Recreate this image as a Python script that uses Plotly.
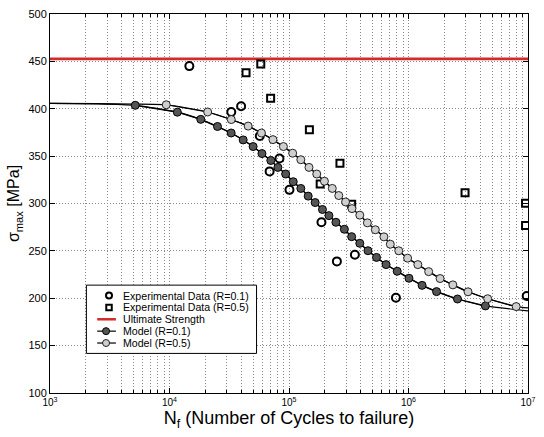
import plotly.graph_objects as go

# ---------------- data ----------------
ultimate_strength = 452.6
x_range_cycles = [1e3, 1e7]

exp_r01_cycles = [14660, 32880, 39740, 56960, 68850, 83210, 100900, 186900, 251600, 355900, 784900, 9.757e6]
exp_r01_stress = [445.0, 396.6, 402.6, 371.2, 333.9, 347.5, 314.4, 280.2, 238.9, 245.9, 200.6, 202.3]

exp_r05_cycles = [43690, 58050, 70170, 148100, 182400, 266900, 334400, 2.973e6, 9.537e6, 9.537e6]
exp_r05_stress = [438.1, 447.3, 411.2, 377.8, 320.7, 342.6, 299.2, 311.3, 300.2, 276.8]

model_r01_cycles = [5170, 11630, 18270, 25210, 32810, 41350, 50070, 59390, 70420, 80720,
                    93760, 108500, 125600, 144700, 165500, 190500, 215900, 246900, 290700, 334400,
                    391300, 458000, 540100, 649200, 804300, 1.009e6, 1.299e6, 1.717e6, 2.570e6, 4.401e6]
model_r01_stress = [403.6, 396.4, 388.8, 381.3, 374.4, 367.1, 360.1, 352.7, 345.4, 338.1,
                    331.1, 323.0, 315.9, 307.8, 301.0, 293.7, 287.2, 280.2, 272.8, 265.0,
                    258.0, 250.2, 243.1, 235.5, 228.5, 221.1, 213.6, 207.0, 199.2, 191.9]

model_r05_cycles = [9393, 20860, 32880, 45530, 58820, 73400, 89770, 107300, 125600, 147000,
                    170700, 197900, 230200, 260900, 297400, 336300, 391300, 452900, 527900, 622600,
                    704200, 828900, 983100, 1.197e6, 1.475e6, 1.838e6, 2.351e6, 3.147e6, 4.598e6, 7.963e6]
model_r05_stress = [404.2, 396.6, 388.6, 381.7, 374.4, 367.4, 360.1, 353.1, 346.2, 338.1,
                    331.1, 323.5, 315.9, 308.4, 301.6, 294.6, 287.7, 279.6, 272.3, 264.8,
                    257.0, 250.1, 242.3, 235.5, 228.1, 220.8, 214.1, 206.8, 199.5, 191.2]

# curve end / flat-region points (beyond the markers)
model_r01_tail_cycles = [1e3, 2500]
model_r01_tail_stress = [405.6, 405.2]
model_r01_end = (1e7, 186.7)
model_r05_tail_cycles = [1e3, 2500, 5000]
model_r05_tail_stress = [405.6, 405.4, 405.0]
model_r05_end = (1e7, 189.8)

x_tick_vals = [1e3, 1e4, 1e5, 1e6, 1e7]
x_tick_text = ["10<sup>3</sup>", "10<sup>4</sup>", "10<sup>5</sup>", "10<sup>6</sup>", "10<sup>7</sup>"]
y_tick_vals = [100, 150, 200, 250, 300, 350, 400, 450, 500]

legend_labels = ["Experimental Data (R=0.1)", "Experimental Data (R=0.5)", "Ultimate Strength",
                 "Model (R=0.1)", "Model (R=0.5)"]

FONT = "Liberation Sans, Arial, sans-serif"
RED = "#d42a2a"
DARK = "#555555"
LIGHT = "#cfcfcf"
GRID = "#8a8a8a"
GRID_DASH = "1px,2px"

W, H = 544, 437
ML, MR, MT, MB = 50, 8, 10, 44
PW, PH = W - ML - MR, H - MT - MB


def px2x(px):
    return (px - ML) / PW


def px2y(py):
    return (H - MB - py) / PH


fig = go.Figure()

# smooth model curves spanning the full axis
fig.add_trace(go.Scatter(
    x=model_r01_tail_cycles + model_r01_cycles + [model_r01_end[0]],
    y=model_r01_tail_stress + model_r01_stress + [model_r01_end[1]],
    mode="lines", line=dict(color="black", width=1.2, shape="spline", smoothing=0.6),
    showlegend=False, hoverinfo="skip"))
fig.add_trace(go.Scatter(
    x=model_r05_tail_cycles + model_r05_cycles + [model_r05_end[0]],
    y=model_r05_tail_stress + model_r05_stress + [model_r05_end[1]],
    mode="lines", line=dict(color="black", width=1.2, shape="spline", smoothing=0.6),
    showlegend=False, hoverinfo="skip"))

fig.add_trace(go.Scatter(
    x=x_range_cycles, y=[ultimate_strength, ultimate_strength],
    mode="lines", line=dict(color=RED, width=2.8),
    name=legend_labels[2], showlegend=False))

fig.add_trace(go.Scatter(
    x=exp_r01_cycles, y=exp_r01_stress, mode="markers",
    marker=dict(symbol="circle-open", size=8, color="black", line=dict(width=2)),
    name=legend_labels[0], showlegend=False))
fig.add_trace(go.Scatter(
    x=exp_r05_cycles, y=exp_r05_stress, mode="markers",
    marker=dict(symbol="square-open", size=7, color="black", line=dict(width=2)),
    name=legend_labels[1], showlegend=False))

fig.add_trace(go.Scatter(
    x=model_r01_cycles, y=model_r01_stress, mode="lines+markers",
    line=dict(color="black", width=1.2),
    marker=dict(symbol="circle", size=8, color=DARK, line=dict(color="black", width=1)),
    name=legend_labels[3], showlegend=False))
fig.add_trace(go.Scatter(
    x=model_r05_cycles, y=model_r05_stress, mode="lines+markers",
    line=dict(color="black", width=1.2),
    marker=dict(symbol="circle", size=8, color=LIGHT, line=dict(color="#222222", width=1)),
    name=legend_labels[4], showlegend=False))

# ---------------- compact legend (MATLAB style) ----------------
box = dict(x0=87, x1=260, y0=284, y1=353)
row_y = [294.5, 306.5, 318.5, 330.5, 342.5]
shapes = [dict(type="rect", xref="paper", yref="paper",
               x0=px2x(box["x0"]), x1=px2x(box["x1"]), y0=px2y(box["y1"]), y1=px2y(box["y0"]),
               line=dict(color="black", width=1), fillcolor="white", layer="above")]


def marker_shape(kind, cx, cy, size, fill, lw, lc="black"):
    return dict(type=kind, xref="paper", yref="paper", xsizemode="pixel", ysizemode="pixel",
                xanchor=px2x(cx), yanchor=px2y(cy),
                x0=-size / 2, x1=size / 2, y0=-size / 2, y1=size / 2,
                line=dict(color=lc, width=lw), fillcolor=fill, layer="above")


def line_shape(x0, x1, cy, color, width):
    return dict(type="line", xref="paper", yref="paper",
                x0=px2x(x0), x1=px2x(x1), y0=px2y(cy), y1=px2y(cy),
                line=dict(color=color, width=width), layer="above")


shapes.append(marker_shape("circle", 110, row_y[0], 6, "white", 2))
shapes.append(marker_shape("rect", 110, row_y[1], 5.5, "white", 2))
shapes.append(line_shape(98, 117, row_y[2], RED, 2.5))
shapes.append(line_shape(98, 117, row_y[3], "black", 1.2))
shapes.append(marker_shape("circle", 107, row_y[3], 7, DARK, 1))
shapes.append(line_shape(98, 117, row_y[4], "black", 1.2))
shapes.append(marker_shape("circle", 107, row_y[4], 7, LIGHT, 1, "#222222"))

annotations = []
for label, yy in zip(legend_labels, row_y):
    annotations.append(dict(text=label, xref="paper", yref="paper", x=px2x(122), y=px2y(yy),
                            xanchor="left", yanchor="middle", showarrow=False,
                            font=dict(size=10.6, family=FONT, color="black")))

fig.update_layout(
    width=W, height=H,
    margin=dict(l=ML, r=MR, t=MT, b=MB),
    paper_bgcolor="white", plot_bgcolor="white",
    font=dict(family=FONT, color="black", size=11),
    showlegend=False,
    shapes=shapes, annotations=annotations,
    xaxis=dict(type="log", range=[3, 7], tickvals=x_tick_vals, ticktext=x_tick_text,
               showline=True, linecolor="black", linewidth=1, mirror="ticks",
               ticks="inside", ticklen=5, tickcolor="black",
               showgrid=True, gridcolor=GRID, griddash=GRID_DASH, gridwidth=1,
               minor=dict(ticks="inside", ticklen=3, tickcolor="black", showgrid=True,
                          gridcolor=GRID, griddash=GRID_DASH, gridwidth=1, dtick="D1"),
               tickfont=dict(size=10), zeroline=False,
               title=dict(text="N<sub>f</sub> (Number of Cycles to failure)",
                          font=dict(size=18), standoff=4)),
    yaxis=dict(range=[100, 500], tickvals=y_tick_vals,
               showline=True, linecolor="black", linewidth=1, mirror="ticks",
               ticks="inside", ticklen=5, tickcolor="black",
               showgrid=True, gridcolor=GRID, griddash=GRID_DASH, gridwidth=1,
               tickfont=dict(size=11), zeroline=False,
               title=dict(text="σ<sub>max</sub> [MPa]", font=dict(size=16), standoff=4)),
)

fig.write_html("out.html")
